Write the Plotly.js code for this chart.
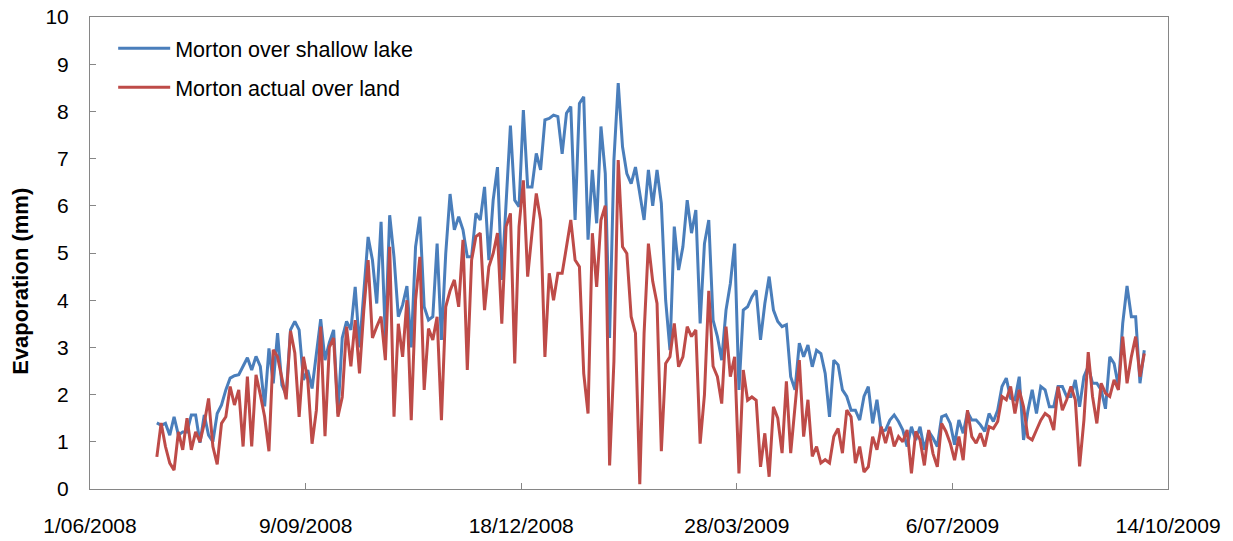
<!DOCTYPE html>
<html>
<head>
<meta charset="utf-8">
<script src="https://cdn.plot.ly/plotly-3.0.1.min.js"></script>
<style>
  html, body { margin: 0; padding: 0; background: #ffffff; }
  #chart { width: 1233px; height: 541px; }
</style>
</head>
<body>
<div id="chart"></div>
<script>
// ---- Data (one value every 2 days) ----
const startDate = '2008-07-02';
const stepDays = 2;

const lakeEvap = [
  1.40, 1.35, 1.39, 1.14, 1.53, 1.14, 1.21, 1.21, 1.57, 1.57, 0.98, 1.57, 1.14, 1.00, 1.60, 1.78, 2.10, 2.35, 2.40, 2.42, 2.60, 2.78, 2.52, 2.81, 2.60, 1.75, 2.98, 2.24, 3.30,
  2.20, 2.00, 3.37, 3.55, 3.37, 2.31, 2.52, 2.13, 2.88, 3.60, 2.73, 3.10, 3.37, 1.60, 3.20, 3.55, 3.37, 4.28, 3.00, 4.14, 5.34, 4.85, 3.93, 5.66, 3.20, 5.80, 4.92, 3.65, 3.90,
  4.30, 3.00, 5.13, 5.77, 3.86, 3.58, 3.65, 5.20, 3.16, 4.99, 6.25, 5.49, 5.77, 5.49, 4.92, 4.92, 5.84, 5.70, 6.40, 4.85, 6.12, 6.82, 4.43, 6.12, 7.70, 6.12, 5.98, 8.03, 6.40,
  6.40, 7.11, 6.76, 7.82, 7.85, 7.92, 7.89, 7.10, 7.96, 8.10, 5.70, 8.17, 8.31, 5.28, 6.76, 5.63, 7.68, 6.68, 3.20, 6.97, 8.60, 7.25, 6.68, 6.47, 6.82, 6.26, 5.70, 6.76, 6.00,
  6.76, 6.05, 4.00, 2.94, 5.56, 4.64, 5.13, 6.12, 5.42, 5.91, 3.51, 5.20, 5.70, 3.58, 3.23, 2.73, 3.79, 4.35, 5.20, 2.10, 3.79, 3.86, 4.07, 4.21, 3.16, 3.93, 4.50, 3.79, 3.55,
  3.44, 3.48, 2.38, 2.10, 3.09, 2.80, 3.05, 2.59, 2.94, 2.87, 2.45, 1.53, 2.73, 2.63, 2.10, 1.96, 1.67, 1.67, 1.46, 1.96, 2.17, 1.39, 1.89, 1.22, 1.25, 1.46, 1.57, 1.43, 1.25,
  0.90, 1.32, 1.04, 1.32, 0.83, 1.22, 1.08, 0.90, 1.53, 1.57, 1.39, 0.94, 1.46, 1.18, 1.63, 1.46, 1.46, 1.36, 1.22, 1.60, 1.43, 1.67, 2.17, 2.35, 1.92, 1.89, 2.38, 1.04, 1.65,
  2.10, 1.60, 2.17, 2.10, 1.74, 1.74, 2.17, 2.17, 1.96, 1.96, 2.31, 1.74, 2.38, 2.60, 2.24, 2.24, 2.10, 1.70, 2.80, 2.66, 2.17, 3.51, 4.30, 3.65, 3.65, 2.24, 2.94
];

const landEvap = [
  0.68, 1.40, 0.90, 0.55, 0.40, 1.21, 0.83, 1.50, 0.83, 1.21, 1.00, 1.39, 1.92, 0.90, 0.52, 1.39, 1.53, 2.17, 1.78, 2.10, 0.90, 2.38, 0.90, 2.42, 2.00, 1.53, 0.80, 2.95, 2.80,
  2.31, 1.90, 3.35, 2.88, 1.53, 2.80, 2.31, 0.96, 1.67, 3.44, 1.12, 3.00, 3.20, 1.53, 1.95, 3.44, 2.60, 3.58, 2.45, 3.79, 4.85, 3.20, 3.44, 3.65, 2.73, 5.13, 1.53, 3.50, 2.80,
  4.00, 1.46, 4.00, 4.92, 2.10, 3.40, 3.16, 3.65, 1.46, 3.86, 4.20, 4.43, 3.86, 5.28, 2.52, 4.85, 5.35, 5.42, 3.79, 4.71, 4.99, 5.42, 3.50, 5.56, 5.84, 2.66, 5.56, 6.54, 4.50,
  5.42, 6.26, 5.70, 2.80, 4.57, 4.00, 4.57, 4.57, 5.13, 5.70, 4.85, 4.71, 2.45, 1.60, 5.42, 4.28, 5.70, 6.00, 0.50, 2.70, 6.97, 5.13, 4.99, 3.65, 3.30, 0.10, 3.30, 5.20, 4.40,
  3.93, 0.80, 2.66, 2.80, 3.51, 2.59, 2.80, 3.44, 3.23, 3.37, 0.96, 2.00, 4.20, 2.60, 2.38, 1.81, 3.44, 2.38, 2.80, 0.33, 2.52, 1.88, 1.95, 1.88, 0.47, 1.18, 0.26, 1.74, 1.50,
  0.76, 2.28, 0.76, 1.67, 2.73, 1.11, 1.89, 0.69, 0.90, 0.55, 0.62, 0.55, 1.11, 1.28, 0.76, 1.67, 1.53, 0.55, 0.90, 0.36, 0.47, 1.11, 0.83, 1.32, 0.97, 1.32, 0.90, 1.11, 1.00,
  1.25, 0.33, 1.22, 1.04, 0.50, 1.25, 0.75, 0.47, 1.39, 1.22, 0.97, 0.61, 1.11, 0.61, 1.67, 1.11, 0.97, 1.18, 0.90, 1.32, 1.28, 1.43, 1.96, 1.89, 2.17, 1.60, 2.10, 1.74, 1.10,
  1.04, 1.25, 1.46, 1.60, 1.53, 1.25, 2.17, 1.67, 1.89, 2.17, 1.89, 0.48, 1.46, 2.90, 1.96, 1.39, 2.24, 2.03, 1.96, 2.31, 2.10, 3.23, 2.24, 2.80, 3.23, 2.38, 2.87
];

const seriesNames = ['Morton over shallow lake', 'Morton actual over land'];
const tickDates = ['2008-06-01', '2008-09-09', '2008-12-18', '2009-03-28', '2009-07-06', '2009-10-14'];
const tickLabels = ['1/06/2008', '9/09/2008', '18/12/2008', '28/03/2009', '6/07/2009', '14/10/2009'];
const yTitle = 'Evaporation (mm)';

// ---- build date axis values ----
function buildDates(start, step, n) {
  const base = new Date(start + 'T00:00:00Z').getTime();
  const out = [];
  for (let i = 0; i < n; i++) {
    out.push(new Date(base + i * step * 86400000).toISOString().slice(0, 10));
  }
  return out;
}
const dates = buildDates(startDate, stepDays, lakeEvap.length);

const FONT = 'Liberation Sans, Arial, sans-serif';
const AXIS_COLOR = '#868686';

const traces = [
  {
    x: dates, y: lakeEvap, name: seriesNames[0], type: 'scatter', mode: 'lines',
    line: { color: '#4A7EBB', width: 3 }, legendgroup: 'g1'
  },
  {
    x: dates, y: landEvap, name: seriesNames[1], type: 'scatter', mode: 'lines',
    line: { color: '#BE4B48', width: 3 }, legendgroup: 'g2'
  }
];

const layout = {
  width: 1233, height: 541,
  margin: { l: 90, r: 65, t: 17, b: 52, pad: 0 },
  paper_bgcolor: '#ffffff', plot_bgcolor: '#ffffff',
  font: { family: FONT, size: 21, color: '#000000' },
  showlegend: true,
  legend: {
    x: 0.0215, y: 0.977, xanchor: 'left', yanchor: 'top',
    bgcolor: 'rgba(0,0,0,0)', borderwidth: 0,
    font: { family: FONT, size: 21.5, color: '#000000' },
    itemwidth: 52, traceorder: 'grouped', tracegroupgap: 8
  },
  xaxis: {
    type: 'date',
    range: [tickDates[0], tickDates[tickDates.length - 1]],
    tickmode: 'array', tickvals: tickDates, ticktext: tickLabels,
    ticks: 'inside', ticklen: 6, tickwidth: 1, tickcolor: AXIS_COLOR,
    showline: true, linecolor: AXIS_COLOR, linewidth: 1, mirror: true,
    showgrid: false, zeroline: false,
    tickfont: { family: FONT, size: 21, color: '#000000' },
    ticklabelstandoff: 18,
    fixedrange: true
  },
  yaxis: {
    range: [0, 10], dtick: 1, tick0: 0,
    ticks: 'inside', ticklen: 6, tickwidth: 1, tickcolor: AXIS_COLOR,
    showline: true, linecolor: AXIS_COLOR, linewidth: 1, mirror: true,
    showgrid: false, zeroline: false,
    tickfont: { family: FONT, size: 21, color: '#000000' },
    ticklabelstandoff: 16,
    fixedrange: true
  },
  annotations: [
    {
      text: '<b>' + yTitle + '</b>', xref: 'paper', yref: 'paper',
      x: -0.0645, y: 0.44, xanchor: 'center', yanchor: 'middle',
      textangle: -90, showarrow: false,
      font: { family: FONT, size: 22, color: '#000000' }
    }
  ]
};

Plotly.newPlot('chart', traces, layout, { displayModeBar: false, staticPlot: true });
</script>
</body>
</html>
